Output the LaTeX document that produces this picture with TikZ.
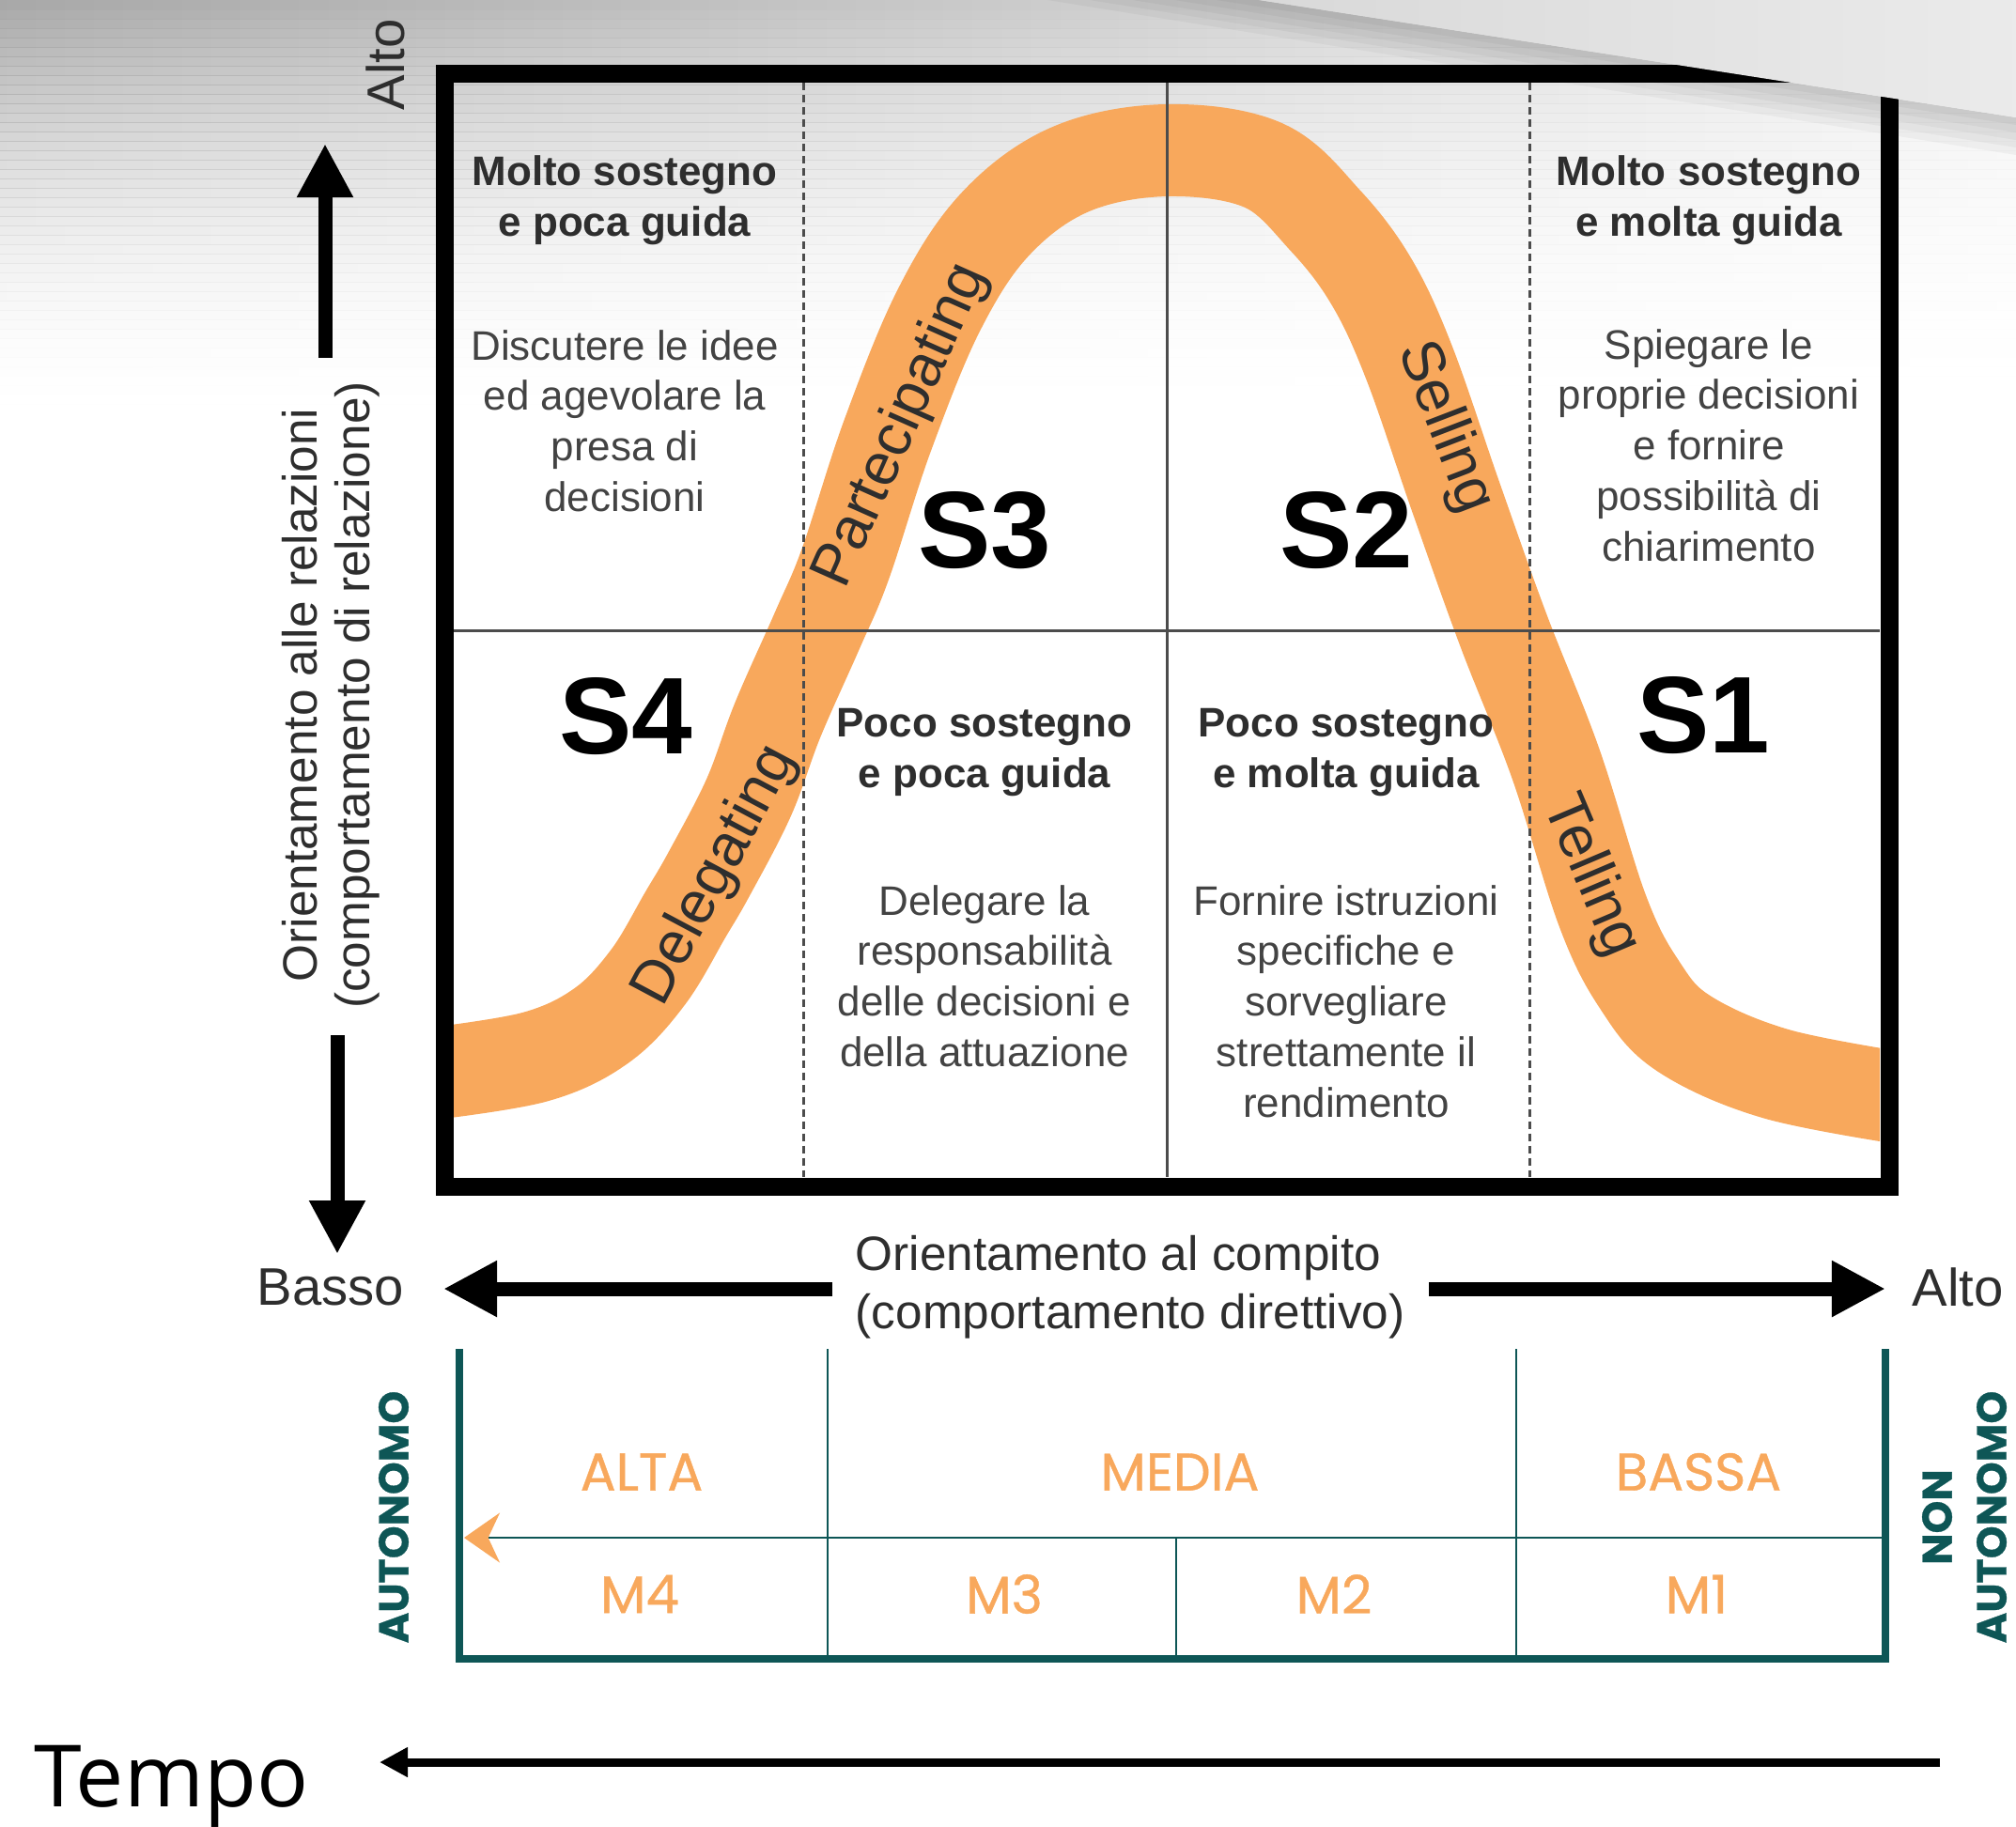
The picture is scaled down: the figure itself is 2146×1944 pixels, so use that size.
\documentclass[tikz,border=0pt]{standalone}
\usepackage{fontspec}
\setmainfont{Liberation Sans}
\newfontfamily\mfont[FakeBold=0.7]{Poppins}
\newfontfamily\tfont{Open Sans}
\usetikzlibrary{arrows.meta}
\definecolor{bandorange}{HTML}{F8A85C}
\definecolor{tabteal}{HTML}{0E5656}
\definecolor{inkgray}{HTML}{2E2E2E}
\tikzset{
  heading/.style={font=\fontsize{12.5}{15.3}\selectfont\bfseries, text=inkgray, align=center, inner sep=0pt},
  bodytext/.style={font=\fontsize{12.5}{15.3}\selectfont, text=inkgray!90, align=center, inner sep=0pt},
  stylelabel/.style={font=\fontsize{33}{33}\selectfont\bfseries, inner sep=0pt},
  curvelabel/.style={font=\fontsize{18}{18}\selectfont, text=inkgray, inner sep=0pt},
  axislabel/.style={font=\fontsize{16}{16}\selectfont, text=inkgray, inner sep=0pt},
  axistext/.style={font=\fontsize{14.6}{17.8}\selectfont, text=inkgray, inner sep=0pt},
  bigarrow/.style={line width=0.15cm, -{Triangle[length=0.57cm,width=0.56cm]}},
  band/.style={bandorange, line width=0.98cm},
  grid/.style={black!70, line width=0.03cm},
  frame/.style={black, line width=0.19cm},
  tabline/.style={tabteal, line width=0.025cm},
  tablabel/.style={font=\mfont\fontsize{16}{16}\selectfont, text=bandorange, inner sep=0pt},
  sidelabel/.style={font=\mfont\bfseries\fontsize{12.6}{16.5}\selectfont, text=tabteal, align=center, rotate=90, inner sep=0pt},
}
\begin{document}
\begin{tikzpicture}[x=0.01cm, y=-0.01cm]
  \useasboundingbox (0,0) rectangle (2146,1944);
  % slide background
  \foreach \k [evaluate=\k as \op using (1-\k/45)^2] in {0,...,44}
    \shade[left color=black!34, right color=black!7, opacity=\op] (0,{\k*10}) rectangle (2146,{\k*10+10});

  % the curve
  \begin{scope}
    \clip (483,88) rectangle (2001,1253);
    \draw[band] plot[smooth, tension=0.6] coordinates {(460,1143) (570,1125) (640,1092) (690,1040) (730,973) (755,930) (797,849) (828,766) (870,671) (900,600) (945,463) (1000,329) (1060,238) (1140,180) (1242,160) (1345,176) (1411,235) (1460,300) (1500,386) (1550,530) (1600,670) (1656,813) (1706,970) (1745,1048) (1792,1100) (1890,1143) (2030,1170)};
  \end{scope}

  % quadrants
  \draw[grid] (483,671) -- (2001,671);
  \draw[grid] (1242,88) -- (1242,1253);
  \draw[grid, dash pattern=on 0.08cm off 0.05cm] (855,88) -- (855,1253);
  \draw[grid, dash pattern=on 0.08cm off 0.05cm] (1628,88) -- (1628,1253);
  \draw[frame] (473,78) rectangle (2011,1263);

  % page curl
  \foreach \k in {1,...,5}
    \fill[black, opacity=0.035] (1340,0) -- (2146,125) -- (2146,{125+8*\k}) -- ({1340-45*\k},0) -- cycle;
  \shade[left color=black!15, right color=black!8] (1340,0) -- (2146,0) -- (2146,125) -- cycle;

  \node[heading] (h3) at (665,213) {Molto sostegno\\e poca guida};
  \node[bodytext] (d3) at (665,448) {Discutere le idee\\ed agevolare la\\presa di\\decisioni};
  \node[heading] (h2) at (1819,213) {Molto sostegno\\e molta guida};
  \node[bodytext] (d2) at (1819,474) {Spiegare le\\proprie decisioni\\e fornire\\possibilità di\\chiarimento};
  \node[heading] (h4) at (1048,801) {Poco sostegno\\e poca guida};
  \node[bodytext] (d4) at (1048,1039) {Delegare la\\responsabilità\\delle decisioni e\\della attuazione};
  \node[heading] (h1) at (1433,801) {Poco sostegno\\e molta guida};
  \node[bodytext] (d1) at (1433,1066) {Fornire istruzioni\\specifiche e\\sorvegliare\\strettamente il\\rendimento};

  \node[stylelabel] (s4) at (666,763) {S4};
  \node[stylelabel] (s3) at (1048,565) {S3};
  \node[stylelabel] (s2) at (1433,565) {S2};
  \node[stylelabel] (s1) at (1813,762) {S1};

  \node[curvelabel, rotate=66] (lpart) at (960,453) {Partecipating};
  \node[curvelabel, rotate=-69] (lsell) at (1538,455) {Selling};
  \node[curvelabel, rotate=62] (ldel) at (762,932) {Delegating};
  \node[curvelabel, rotate=-67] (ltell) at (1693,933) {Telling};

  % relationship axis
  \node[axislabel, rotate=90] (relhigh) at (410,69) {Alto};
  \node[axistext, rotate=90, align=center, font=\fontsize{14.6}{15.8}\selectfont] (relaxis) at (352,740) {Orientamento alle relazioni\\(comportamento di relazione)};
  \coordinate (upS) at (346,381);
  \coordinate (upE) at (346,153);
  \coordinate (dnS) at (359,1102);
  \coordinate (dnE) at (359,1335);
  \draw[bigarrow] (upS) -- (upE);
  \draw[bigarrow] (dnS) -- (dnE);

  % task axis
  \node[axislabel] (tasklow) at (352,1370) {Basso};
  \node[axislabel] (taskhigh) at (2084,1370) {Alto};
  \node[axistext, align=left, anchor=west] (taskaxis) at (910,1370) {Orientamento al compito\\(comportamento direttivo)};
  \coordinate (lfS) at (886,1372);
  \coordinate (lfE) at (472,1372);
  \coordinate (rtS) at (1521,1372);
  \coordinate (rtE) at (2007,1372);
  \draw[bigarrow] (lfS) -- (lfE);
  \draw[bigarrow] (rtS) -- (rtE);

  % maturity table
  \draw[tabteal, line width=0.08cm] (489,1436) -- (489,1766) -- (2007,1766) -- (2007,1436);
  \draw[tabline] (881,1436) -- (881,1766);
  \draw[tabline] (1614,1436) -- (1614,1766);
  \draw[tabline] (1252,1637) -- (1252,1766);
  \draw[tabline, -{Stealth[length=0.38cm,width=0.53cm,color=bandorange]}] (2007,1637) -- (494,1637);
  \node[tablabel] (alta) at (683,1567) {ALTA};
  \node[tablabel] (media) at (1256,1567) {MEDIA};
  \node[tablabel] (bassa) at (1808,1567) {BASSA};
  \node[tablabel] (m4) at (681,1697) {M4};
  \node[tablabel] (m3) at (1069,1697) {M3};
  \node[tablabel] (m2) at (1420,1697) {M2};
  \node[tablabel] (m1) at (1806,1697) {M1};
  \node[sidelabel] (auto) at (419,1615) {AUTONOMO};
  \node[sidelabel] (nonauto) at (2091,1615) {NON\\AUTONOMO};

  % time
  \node[font=\tfont\fontsize{26}{26}\selectfont, anchor=base west, inner sep=0pt] (tempo) at (36,1923) {Tempo};
  \coordinate (tS) at (2065,1876);
  \coordinate (tE) at (404,1876);
  \draw[line width=0.09cm, -{Triangle[length=0.3cm,width=0.3cm]}] (tS) -- (tE);
\end{tikzpicture}
\end{document}
